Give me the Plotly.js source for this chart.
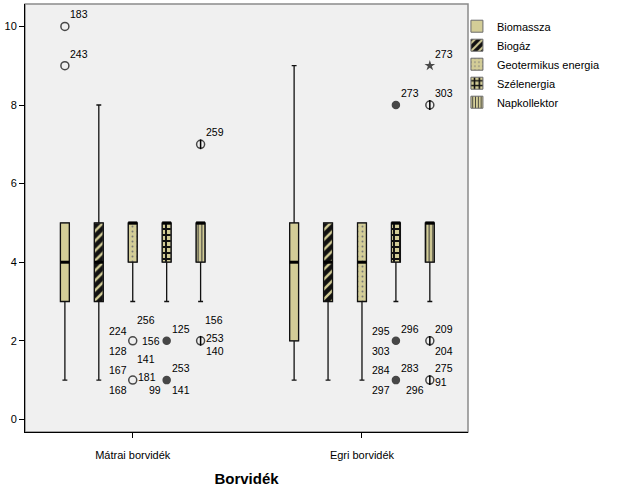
<!DOCTYPE html>
<html><head><meta charset="utf-8">
<script src="https://cdn.plot.ly/plotly-3.0.1.min.js"></script>
<style>html,body{margin:0;padding:0;background:#fff;}#chart{width:626px;height:501px;}</style>
</head><body><div id="chart"></div>
<script>
// ---- data ----
const categories = ['Mátrai borvidék', 'Egri borvidék'];
const seriesNames = ['Biomassza', 'Biogáz', 'Geotermikus energia', 'Szélenergia', 'Napkollektor'];
// per series: [Mátrai, Egri]
const q1Values      = [[3, 2], [3, 3], [4, 3], [4, 4], [4, 4]];
const medianValues  = [[4, 4], [4, 4], [5, 4], [5, 5], [5, 5]];
const q3Values      = [[5, 5], [5, 5], [5, 5], [5, 5], [5, 5]];
const lowerWhisker  = [[1, 1], [1, 1], [3, 1], [3, 3], [3, 3]];
const upperWhisker  = [[5, 9], [8, 5], [5, 5], [5, 5], [5, 5]];
// outlier points
const outlierSeries   = [0, 0, 2, 2, 3, 3, 4, 4, 3, 3, 3, 4, 4, 4, 4];
const outlierCategory = [0, 0, 0, 0, 0, 0, 0, 0, 1, 1, 1, 1, 1, 1, 1];
const outlierValues   = [10, 9, 2, 1, 2, 1, 7, 2, 8, 2, 1, 9, 8, 2, 1];
const outlierExtreme  = [0, 0, 0, 0, 0, 0, 0, 0, 0, 0, 0, 1, 0, 0, 0];
// case labels of outliers
const labelSeries   = [0,0, 2,2,2, 2,2,2,2, 3,3, 3,3,3, 4, 4,4,4, 3, 3,3,3, 3,3,3, 4,4, 4,4, 4,4,4];
const labelCategory = [0,0, 0,0,0, 0,0,0,0, 0,0, 0,0,0, 0, 0,0,0, 1, 1,1,1, 1,1,1, 1,1, 1,1, 1,1,1];
const labelValues   = [10,9, 2,2,2, 1,1,1,1, 2,2, 1,1,1, 7, 2,2,2, 8, 2,2,2, 1,1,1, 9,8, 2,2, 1,1,1];
const labelTexts    = ['183','243', '224','256','128', '167','141','181','168', '125','156', '253','99','141', '259',
                       '156','253','140', '273', '295','296','303', '284','283','297', '273','303', '209','204', '275','91','296'];
const labelPlacement = ['ur','ur', 'ul','uur','ll', 'ul','uur','mr','ll', 'ur','ml', 'ur','ll','lr', 'ur',
                        'uur','mr','lr', 'ur', 'ul','ur','ll', 'ul','ur','ll', 'ur','ur', 'ur','lr', 'ur','mrl','ll'];

// ---- styles ----
const FONT = 'Liberation Sans, Arial, sans-serif';
const KHAKI = '#d3cd97';
const SLOT = 0.148, BOXW = 0.039;
const xPos = (s, c) => c + (s - 2) * SLOT;
const patterns = [
  {shape: ''},
  {shape: '/', bgcolor: '#111', fgcolor: KHAKI, size: 7, solidity: 0.35},
  {shape: '.', bgcolor: KHAKI, fgcolor: '#777', size: 5, solidity: 0.12},
  {shape: '+', bgcolor: KHAKI, fgcolor: '#111', size: 6, solidity: 0.55},
  {shape: '|', bgcolor: KHAKI, fgcolor: '#333', size: 3.5, solidity: 0.3}
];
const placeStyle = {
  ur:  {xanchor: 'left',  xshift: 3,  yshift: 12},
  uur: {xanchor: 'left',  xshift: 2,  yshift: 21},
  ul:  {xanchor: 'right', xshift: -4, yshift: 10},
  ll:  {xanchor: 'right', xshift: -4, yshift: -10},
  lr:  {xanchor: 'left',  xshift: 3,  yshift: -10},
  mr:  {xanchor: 'left',  xshift: 3,  yshift: 3},
  mrl: {xanchor: 'left',  xshift: 3,  yshift: -2},
  ml:  {xanchor: 'right', xshift: -5, yshift: 0}
};
const seriesSymbol = ['circle-open', 'circle-open', 'circle-open', 'circle', 'circle-open'];

const traces = [];
// box bodies (patterned)
seriesNames.forEach((name, s) => {
  traces.push({
    type: 'bar', name: name,
    x: categories.map((_, c) => xPos(s, c)),
    base: q1Values[s],
    y: q3Values[s].map((v, c) => v - q1Values[s][c]),
    width: BOXW,
    marker: {color: KHAKI, line: {color: '#6b6b6b', width: 1}, pattern: patterns[s]},
    hoverinfo: 'skip'
  });
});
// whiskers / outline
seriesNames.forEach((name, s) => {
  traces.push({
    type: 'box', orientation: 'v', name: name, showlegend: false,
    x: categories.map((_, c) => xPos(s, c)),
    q1: q1Values[s], median: medianValues[s], q3: q3Values[s],
    lowerfence: lowerWhisker[s], upperfence: upperWhisker[s],
    width: BOXW, whiskerwidth: 0.55, boxpoints: false,
    fillcolor: 'rgba(0,0,0,0)', line: {color: '#111', width: 1.3},
    hoverinfo: 'skip'
  });
});
// thick medians
const mx = [], my = [];
seriesNames.forEach((_, s) => categories.forEach((_, c) => {
  mx.push(xPos(s, c) - BOXW / 2, xPos(s, c) + BOXW / 2, null);
  my.push(medianValues[s][c], medianValues[s][c], null);
}));
traces.push({type: 'scatter', mode: 'lines', x: mx, y: my, line: {color: '#000', width: 3},
  showlegend: false, hoverinfo: 'skip'});
// outliers
traces.push({
  type: 'scatter', mode: 'markers', showlegend: false, hoverinfo: 'skip',
  x: outlierValues.map((_, i) => xPos(outlierSeries[i], outlierCategory[i])),
  y: outlierValues,
  marker: {
    symbol: outlierValues.map((_, i) => outlierExtreme[i] ? 'star' : seriesSymbol[outlierSeries[i]]),
    size: outlierValues.map((_, i) => outlierExtreme[i] ? 8 : (outlierSeries[i] === 3 ? 7 : 8)),
    color: '#000',
    line: {color: '#000', width: outlierValues.map((_, i) => outlierExtreme[i] ? 0 : 1.5)}
  }
});
// vertical bar inside Napkollektor outlier circles
const napIdx = outlierValues.map((_, i) => i).filter(i => outlierSeries[i] === 4 && !outlierExtreme[i]);
traces.push({
  type: 'scatter', mode: 'markers', showlegend: false, hoverinfo: 'skip',
  x: napIdx.map(i => xPos(4, outlierCategory[i])), y: napIdx.map(i => outlierValues[i]),
  marker: {symbol: 'line-ns-open', size: 7, color: '#000', line: {color: '#000', width: 1.5}}
});

const annotations = labelTexts.map((t, i) => Object.assign({
  x: xPos(labelSeries[i], labelCategory[i]), y: labelValues[i],
  xref: 'x', yref: 'y', text: t, showarrow: false, yanchor: 'middle',
  font: {family: FONT, size: 10.5, color: '#000'}
}, placeStyle[labelPlacement[i]]));

const layout = {
  width: 626, height: 501,
  margin: {l: 25, r: 158, t: 4, b: 69, pad: 0},
  paper_bgcolor: '#fff', plot_bgcolor: '#f0f0f0',
  font: {family: FONT, size: 11, color: '#000'},
  barmode: 'overlay', boxmode: 'overlay',
  showlegend: true,
  legend: {x: 0.975, xanchor: 'left', y: 0.982, yanchor: 'top', bgcolor: 'rgba(0,0,0,0)',
           font: {family: FONT, size: 11, color: '#000'}, tracegroupgap: 0},
  xaxis: {
    range: [-0.470, 1.4625], tickvals: [0, 1], ticktext: categories,
    ticks: 'outside', ticklen: 5, tickcolor: '#000', tickwidth: 1,
    showline: true, linecolor: '#000', linewidth: 1, showgrid: false, zeroline: false,
    tickfont: {size: 11}, ticklabelstandoff: 8,
    title: {text: 'Borvidék', font: {size: 15, weight: 'bold'}, standoff: 13}
  },
  yaxis: {
    range: [-0.32, 10.57], tickvals: [0, 2, 4, 6, 8, 10],
    ticks: 'outside', ticklen: 5, tickcolor: '#000', tickwidth: 1,
    showline: true, linecolor: '#000', linewidth: 1, showgrid: false, zeroline: false,
    tickfont: {size: 11}
  },
  shapes: [{type: 'rect', xref: 'paper', yref: 'paper', x0: 0, x1: 1, y0: 0, y1: 1,
            line: {color: '#8a8a8a', width: 1.5}, layer: 'below'}],
  annotations: annotations
};

Plotly.newPlot('chart', traces, layout, {displayModeBar: false, staticPlot: true});
</script></body></html>
